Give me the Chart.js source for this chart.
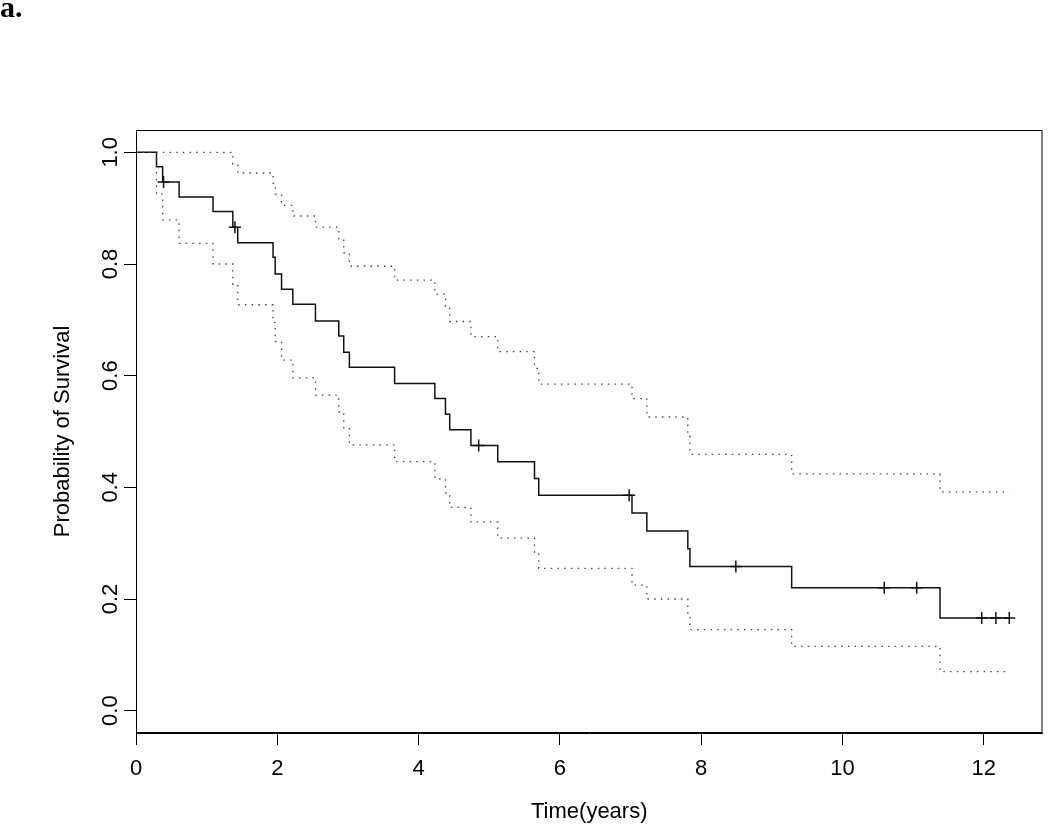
<!DOCTYPE html>
<html>
<head>
<meta charset="utf-8">
<script src="https://cdn.jsdelivr.net/npm/chart.js@4"></script>
<style>
  body { margin: 0; background: #fff; }
  #wrap { position: relative; width: 1050px; height: 825px; }
  #panel { position: absolute; left: 0; top: -8px; font: bold 30px "Liberation Serif", "Times New Roman", serif; line-height: 30px; color: #000; }
</style>
</head>
<body>
<div id="wrap">
  <canvas id="km" width="1050" height="825"></canvas>
  <div id="panel">a.</div>
</div>
<script>
// Kaplan-Meier estimate with 95% confidence band
const eventTimes = [0, 0.29, 0.377, 0.61, 1.09, 1.37, 1.44, 1.94, 1.97, 2.06, 2.22, 2.54, 2.87, 2.94, 3.02, 3.66,
  4.23, 4.38, 4.44, 4.74, 5.12, 5.64, 5.70, 7.02, 7.23, 7.81, 7.84, 9.28, 11.38, 12.36];
const survival = [1, 0.974, 0.947, 0.920, 0.894, 0.866, 0.838, 0.812, 0.782, 0.755, 0.728, 0.698, 0.671, 0.642, 0.615, 0.586,
  0.559, 0.531, 0.503, 0.475, 0.446, 0.416, 0.386, 0.354, 0.322, 0.290, 0.258, 0.220, 0.166, 0.166];
const upperCI = [1, 1, 1, 1, 1, 0.979, 0.963, 0.945, 0.925, 0.905, 0.886, 0.866, 0.845, 0.820, 0.796, 0.771,
  0.746, 0.721, 0.697, 0.670, 0.643, 0.613, 0.585, 0.559, 0.526, 0.492, 0.459, 0.424, 0.392, 0.392];
const lowerCI = [1, 0.925, 0.879, 0.837, 0.800, 0.763, 0.727, 0.695, 0.661, 0.628, 0.596, 0.565, 0.535, 0.505, 0.476, 0.446,
  0.415, 0.390, 0.364, 0.338, 0.309, 0.282, 0.255, 0.225, 0.200, 0.172, 0.145, 0.115, 0.070, 0.070];
const censorTimes = [0.39, 1.40, 4.85, 6.98, 8.49, 10.59, 11.05, 11.97, 12.17, 12.36];

const xTicks = [0, 2, 4, 6, 8, 10, 12];
const yTicks = [0, 0.2, 0.4, 0.6, 0.8, 1.0];

function toPoints(ys) {
  return eventTimes.map((t, i) => ({ x: t, y: ys[i] }));
}

// level of the step curve at time t
function levelAt(t) {
  let s = survival[0];
  for (let i = 0; i < eventTimes.length; i++) {
    if (eventTimes[i] <= t) s = survival[i];
  }
  return s;
}

const censorPoints = censorTimes.map(t => ({ x: t, y: levelAt(t) }));

const frame = {
  id: 'frame',
  afterDraw(chart) {
    const { ctx, chartArea: a } = chart;
    ctx.save();
    ctx.strokeStyle = '#000';
    ctx.lineWidth = 1;
    ctx.strokeRect(a.left + 0.5, a.top + 0.5, a.right - a.left - 1, a.bottom - a.top - 1);
    ctx.restore();
  }
};

Chart.defaults.font.family = '"Liberation Sans", Arial, sans-serif';
Chart.defaults.font.size = 22;
Chart.defaults.color = '#000';

const dotted = {
  borderColor: '#444',
  borderWidth: 1.3,
  borderDash: [1.5, 5.2],
  pointRadius: 0,
  stepped: true,
  fill: false
};

new Chart(document.getElementById('km'), {
  type: 'line',
  data: {
    datasets: [
      { ...dotted, data: toPoints(upperCI) },
      { ...dotted, data: toPoints(lowerCI) },
      {
        data: toPoints(survival),
        borderColor: '#111',
        borderWidth: 1.5,
        pointRadius: 0,
        stepped: true,
        fill: false
      },
      {
        data: censorPoints,
        showLine: false,
        pointStyle: 'cross',
        pointRadius: 6,
        borderColor: '#111',
        borderWidth: 1.5
      }
    ]
  },
  options: {
    responsive: false,
    animation: false,
    devicePixelRatio: 1,
    layout: { padding: { left: 50, top: 130, right: 3, bottom: 0 } },
    plugins: { legend: { display: false }, tooltip: { enabled: false } },
    scales: {
      x: {
        type: 'linear',
        min: 0,
        max: 12.83,
        bounds: 'data',
        afterBuildTicks: s => { s.ticks = xTicks.map(v => ({ value: v })); },
        afterFit: s => { s.height = 92; },
        grid: { drawOnChartArea: false, tickLength: 12, color: '#000' },
        border: { color: '#000' },
        ticks: { padding: 11, maxRotation: 0, autoSkip: false },
        title: { display: true, text: 'Time(years)', padding: 0 }
      },
      y: {
        type: 'linear',
        min: -0.04,
        max: 1.04,
        bounds: 'data',
        afterBuildTicks: s => { s.ticks = yTicks.map(v => ({ value: v })); },
        afterFit: s => { s.width = 86; },
        grid: { drawOnChartArea: false, tickLength: 12, color: '#000' },
        border: { color: '#000' },
        ticks: {
          minRotation: 90,
          maxRotation: 90,
          crossAlign: 'center',
          padding: -2,
          autoSkip: false,
          callback: v => v.toFixed(1)
        },
        title: { display: true, text: 'Probability of Survival', padding: 0 }
      }
    }
  },
  plugins: [frame]
});
</script>
</body>
</html>
